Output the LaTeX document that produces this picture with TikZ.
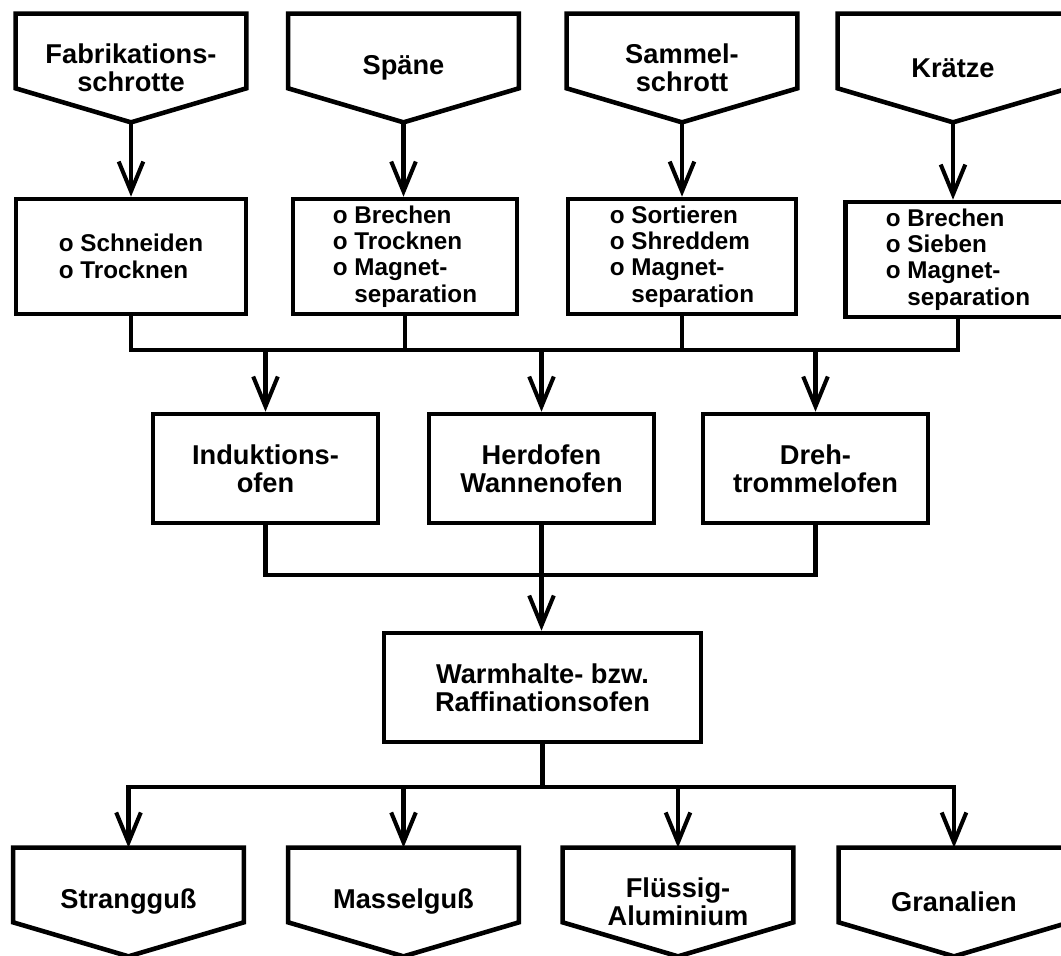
\documentclass[tikz,border=0pt]{standalone}
\usepackage{fontspec}
\setmainfont{Liberation Sans}
\usetikzlibrary{arrows.meta}

\tikzset{
	line/.style={line width=2.3pt, line cap=rect},
	flow/.style={line width=2.3pt, line cap=rect, -{Straight Barb[length=17pt,width=14pt]}},
	head/.style={font=\bfseries\fontsize{15.5}{15.8}\selectfont},
	list/.style={font=\bfseries\fontsize{13.8}{15}\selectfont},
	src/.style={head, align=center, inner sep=0pt, minimum width=4.6cm, minimum height=2.16cm},
	box/.style={list, draw, line width=2.6pt, inner sep=1pt, align=left, minimum height=2.3cm},
	oven/.style={head, draw, line width=2.6pt, align=center, minimum width=4.5cm, minimum height=2.18cm}
}

\begin{document}
\begin{tikzpicture}
		\useasboundingbox (0,0) rectangle (21.22,19.1);
		
		% scrap sources
		\node[src] (fab) at (2.62,17.74) {Fabrikations-\\schrotte};
		\node[src] (spa) at (8.07,17.74) {Späne};
		\node[src] (sam) at (13.64,17.74) {Sammel-\\schrott};
		\node[src] (kra) at (19.06,17.74) {Krätze};
		
		% preparation
		\node[box, minimum width=4.6cm] (schn) at (2.62,13.97) {o Schneiden\\o Trocknen};
		\node[box, minimum width=4.48cm] (brech) at (8.1,13.97) {o Brechen\\o Trocknen\\o Magnet-\\\hphantom{o }separation};
		\node[box, minimum width=4.56cm] (sort) at (13.64,13.97) {o Sortieren\\o Shreddem\\o Magnet-\\\hphantom{o }separation};
		\node[box, minimum width=4.5cm] (sieb) at (19.16,13.91) {o Brechen\\o Sieben\\o Magnet-\\\hphantom{o }separation};
		
		% furnaces
		\node[oven] (ind) at (5.31,9.73) {Induktions-\\ofen};
		\node[oven] (herd) at (10.83,9.73) {Herdofen\\Wannenofen};
		\node[oven] (dreh) at (16.31,9.73) {Dreh-\\trommelofen};
		
		\node[oven, minimum width=6.34cm] (warm) at (10.85,5.35) {Warmhalte- bzw.\\Raffinationsofen};
		
		% products
		\node[src] (str) at (2.57,1.06) {Strangguß};
		\node[src] (mas) at (8.07,1.06) {Masselguß};
		\node[src] (flu) at (13.56,1.06) {Flüssig-\\Aluminium};
		\node[src] (gra) at (19.08,1.06) {Granalien};
		
		% pentagon outlines
		\foreach \n in {fab,spa,sam,kra,str,mas,flu,gra}
			\draw[line width=2.6pt, line join=miter] (\n.north west) -- ([yshift=0.68cm]\n.south west) -- (\n.south) -- ([yshift=0.68cm]\n.south east) -- (\n.north east) -- cycle;
		
		% arrows in
		\foreach \a/\b in {fab/schn,spa/brech,sam/sort,kra/sieb}
			\draw[flow] (\a.south) -- (\a.south |- \b.north);
		
		% collectors
		\coordinate (bus1) at (0,12.1);
		\coordinate (bus2) at (0,7.6);
		\coordinate (bus3) at (0,3.36);
		
		\draw[line] (schn.south) -- (schn.south |- bus1) -- (sieb.south |- bus1) -- (sieb.south);
		\draw[line] (brech.south) -- (brech.south |- bus1);
		\draw[line] (sort.south) -- (sort.south |- bus1);
		\foreach \n in {ind,herd,dreh}
			\draw[flow] (\n.north |- bus1) -- (\n.north);
		
		\draw[line] (ind.south) -- (ind.south |- bus2) -- (dreh.south |- bus2) -- (dreh.south);
		\draw[flow] (herd.south) -- (herd.south |- warm.north);
		
		\draw[line] (warm.south) -- (warm.south |- bus3);
		\draw[line] (str.north |- bus3) -- (gra.north |- bus3);
		\foreach \n in {str,mas,flu,gra}
			\draw[flow] (\n.north |- bus3) -- (\n.north);
		
\end{tikzpicture}
\end{document}
